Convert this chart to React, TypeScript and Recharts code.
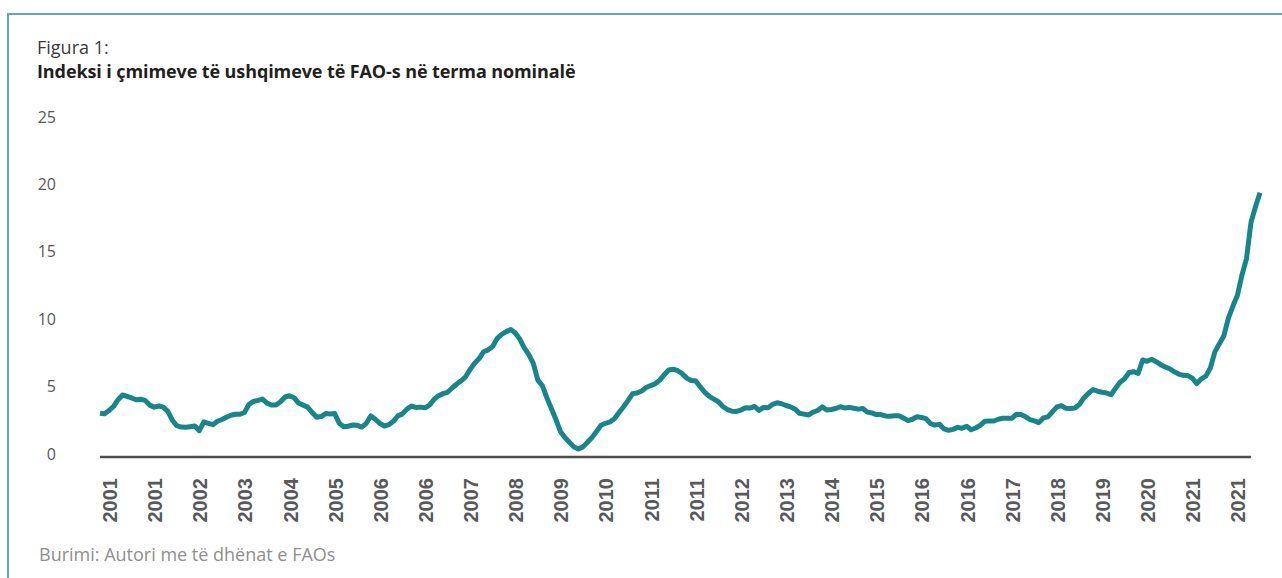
import { LineChart, Line, XAxis, YAxis, ReferenceLine } from "recharts"

// monthly, Jan 2001 .. Jun 2022
const months = Array.from({ length: 258 }, (_, i) => {
	const y = 2001 + Math.floor(i / 12)
	const m = (i % 12) + 1
	return `${y}-${m < 10 ? "0" + m : m}`
})

const values = [
	3.24, 3.2, 3.45, 3.75, 4.25, 4.6, 4.5, 4.38, 4.25, 4.28,
	4.2, 3.85, 3.7, 3.78, 3.7, 3.4, 2.75, 2.32, 2.22, 2.2,
	2.25, 2.3, 1.95, 2.6, 2.5, 2.4, 2.65, 2.78, 2.95, 3.1,
	3.17, 3.17, 3.3, 3.9, 4.12, 4.2, 4.3, 4.0, 3.86, 3.86,
	4.1, 4.45, 4.55, 4.4, 4.0, 3.85, 3.7, 3.3, 2.95, 3.0,
	3.22, 3.19, 3.22, 2.5, 2.25, 2.28, 2.38, 2.35, 2.22, 2.5,
	3.05, 2.8, 2.5, 2.3, 2.4, 2.65, 3.05, 3.2, 3.55, 3.78,
	3.68, 3.7, 3.65, 3.85, 4.27, 4.55, 4.7, 4.8, 5.12, 5.4,
	5.65, 5.95, 6.5, 6.95, 7.3, 7.81, 7.95, 8.2, 8.8, 9.1,
	9.3, 9.45, 9.2, 8.75, 8.1, 7.6, 6.95, 5.7, 5.3, 4.4,
	3.6, 2.8, 1.9, 1.45, 1.1, 0.75, 0.6, 0.75, 1.1, 1.45,
	1.9, 2.35, 2.5, 2.6, 2.85, 3.3, 3.73, 4.2, 4.7, 4.75,
	4.9, 5.15, 5.3, 5.43, 5.7, 6.1, 6.45, 6.51, 6.4, 6.18,
	5.85, 5.67, 5.64, 5.2, 4.8, 4.5, 4.3, 4.1, 3.75, 3.52,
	3.4, 3.38, 3.48, 3.65, 3.63, 3.75, 3.45, 3.68, 3.65, 3.9,
	4.02, 3.95, 3.82, 3.72, 3.55, 3.24, 3.18, 3.12, 3.33, 3.45,
	3.72, 3.49, 3.52, 3.6, 3.73, 3.64, 3.68, 3.62, 3.55, 3.6,
	3.33, 3.27, 3.15, 3.15, 3.05, 3.03, 3.06, 3.06, 2.9, 2.7,
	2.8, 2.99, 2.93, 2.85, 2.48, 2.37, 2.42, 2.08, 1.98, 2.05,
	2.2, 2.13, 2.28, 2.02, 2.15, 2.35, 2.65, 2.67, 2.67, 2.8,
	2.87, 2.87, 2.87, 3.17, 3.15, 3.0, 2.78, 2.68, 2.55, 2.9,
	2.98, 3.35, 3.72, 3.8, 3.62, 3.6, 3.63, 3.9, 4.4, 4.73,
	5.0, 4.88, 4.8, 4.75, 4.62, 5.1, 5.55, 5.8, 6.27, 6.33,
	6.2, 7.2, 7.1, 7.25, 7.07, 6.85, 6.68, 6.55, 6.32, 6.15,
	6.06, 6.04, 5.85, 5.45, 5.8, 6.0, 6.6, 7.8, 8.4, 9.0,
	10.3, 11.2, 12.0, 13.5, 14.7, 17.4, 18.57, 19.6,
]

const yTicks = [0, 5, 10, 15, 20, 25]

const data = months.map((m, i) => ({ m, v: values[i] }))

const TEAL = "#17868a"

function YearTick(props: any) {
	const { x, y, payload } = props
	return (
		<text
			x={x + 17}
			y={y + 21}
			transform={`rotate(-90, ${x + 17}, ${y + 21})`}
			textAnchor="end"
			fontFamily="'Liberation Sans', Arial, sans-serif"
			fontWeight="bold"
			fontSize={20}
			fill="#58595b"
		>
			{String(payload.value).slice(0, 4)}
		</text>
	)
}

function ValueTick(props: any) {
	const { x, y, payload } = props
	return (
		<text
			x={x}
			y={y - 3}
			dy="0.35em"
			textAnchor="end"
			fontFamily="'Open Sans', sans-serif"
			fontSize={16}
			fill="#595959"
		>
			{payload.value}
		</text>
	)
}

export default function App() {
	return (
		<div
			style={{
				position: "absolute",
				left: 0,
				top: 0,
				width: 1282,
				height: 578,
				background: "#fff",
				overflow: "hidden",
				fontFamily: "'Open Sans', sans-serif",
			}}
		>
			<div
				style={{
					position: "absolute",
					left: 7,
					top: 13,
					width: 1300,
					height: 600,
					borderTop: "2px solid #62aaaa",
					borderLeft: "2px solid #62aaaa",
				}}
			/>
			<div style={{ position: "absolute", left: 37, top: 35, fontSize: 18, color: "#3a3a3a", lineHeight: "24px" }}>
				Figura 1:
			</div>
			<div
				style={{
					position: "absolute",
					left: 37,
					top: 59,
					fontSize: 18,
					fontWeight: "bold",
					color: "#231f20",
					lineHeight: "24px",
					letterSpacing: "-0.1px",
				}}
			>
				Indeksi i çmimeve të ushqimeve të FAO-s në terma nominalë
			</div>
			<div style={{ position: "absolute", left: 39, top: 542, fontSize: 18, color: "#8f8f8f", lineHeight: "24px" }}>
				Burimi: Autori me të dhënat e FAOs
			</div>
			<div style={{ position: "absolute", left: 0, top: 0 }}>
				<LineChart width={1282} height={578} data={data} margin={{ top: 120, right: 22, bottom: 41, left: 40 }}>
					<XAxis
						dataKey="m"
						interval={9}
						axisLine={false}
						tickLine={false}
						tickSize={0}
						tickMargin={0}
						height={80}
						tick={<YearTick />}
					/>
					<YAxis
						width={60}
						domain={[0, 25]}
						ticks={yTicks}
						axisLine={false}
						tickLine={false}
						tickSize={0}
						tickMargin={44}
						tick={<ValueTick />}
					/>
					<ReferenceLine
						segment={[
							{ x: months[0], y: 0 },
							{ x: months[255], y: 0 },
						]}
						stroke="#4d4d4d"
						strokeWidth={2.5}
						ifOverflow="visible"
					/>
					<Line
						type="linear"
						dataKey="v"
						stroke={TEAL}
						strokeWidth={5}
						strokeLinejoin="round"
						dot={false}
						isAnimationActive={false}
					/>
				</LineChart>
			</div>
		</div>
	)
}
